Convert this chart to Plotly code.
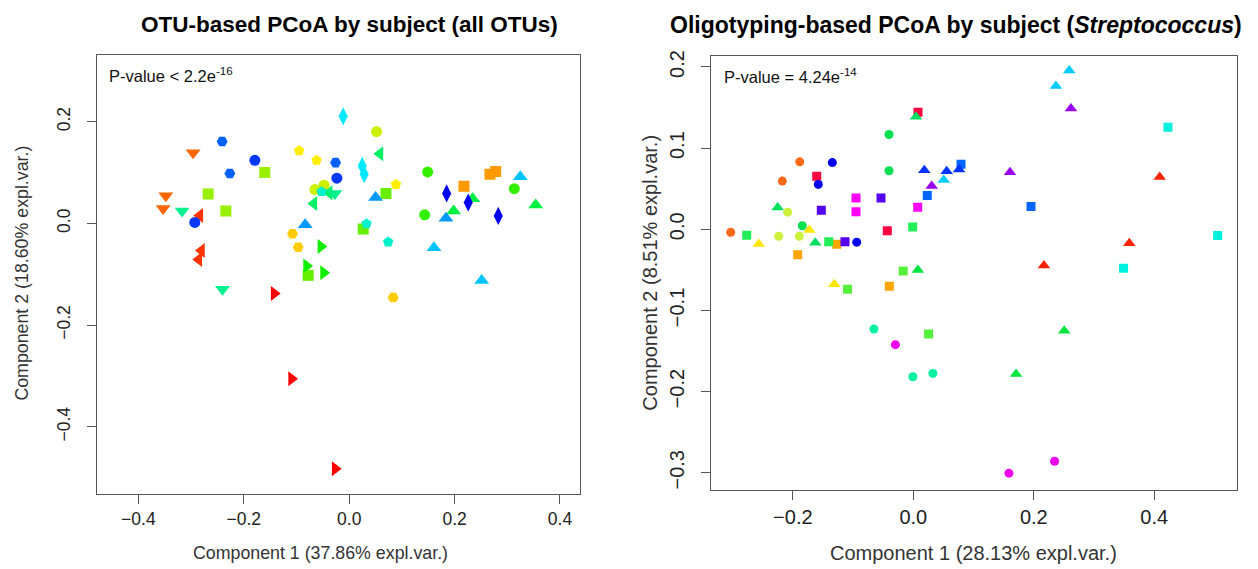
import plotly.graph_objects as go

# ---------------- Left panel: OTU-based PCoA (all OTUs) ----------------
left_subject_colors = ["#FF0000", "#FF3300", "#FF6600", "#FF9900", "#FFCC00", "#FFEE00",
                       "#CCF000", "#99F000", "#66F000", "#33F000", "#11F000", "#00F044",
                       "#00F066", "#00F090", "#00F0CC", "#00E8FF", "#00C4FF", "#0099FF",
                       "#0060FF", "#0038FF", "#0000F0"]
left_subject_symbols = ["triangle-right", "triangle-left", "triangle-down", "square", "hexagon2",
                        "pentagon", "circle", "square", "square", "circle", "triangle-right",
                        "triangle-up", "triangle-left", "triangle-down", "pentagon", "diamond-tall",
                        "triangle-up", "triangle-up", "hexagon2", "circle", "diamond-tall"]

left_x = [-0.1424, -0.1094, -0.0266,
          -0.2835, -0.2802, -0.2854,
          -0.2962, -0.3480, -0.3531,
          0.2671, 0.2780, 0.2178,
          -0.1075, 0.0835, -0.0968,
          -0.0949, -0.0619, 0.0887,
          -0.0651, -0.0475, 0.0520,
          -0.1601, -0.2677, -0.2341,
          0.0697, 0.0266, -0.0778,
          0.1489, 0.3133, 0.1432,
          -0.0537, -0.0809, -0.0486,
          0.3539, 0.1982, 0.2343,
          -0.0670, 0.0583, -0.0380,
          -0.3171, -0.2404, -0.0272,
          -0.0524, 0.0330, 0.0740,
          -0.0114, 0.0247, 0.0285,
          0.3247, 0.1608, 0.2514,
          -0.0835, 0.0501, 0.1836,
          -0.2411, -0.0258, -0.2265,
          -0.1790, -0.0234, -0.2930,
          0.1849, 0.2259, 0.2829]
left_y = [-0.1378, -0.3055, -0.4823,
          0.0156, -0.0534, -0.0710,
          0.1390, 0.0546, 0.0292,
          0.0967, 0.1020, 0.0733,
          -0.0203, -0.1456, -0.0468,
          0.1429, 0.1240, 0.0766,
          0.0669, 0.0752, 0.1805,
          0.1000, 0.0577, 0.0246,
          0.0590, -0.0111, -0.1021,
          0.1013, 0.0682, 0.0168,
          -0.0456, -0.0838, -0.0969,
          0.0363, 0.0246, 0.0487,
          0.0390, 0.1370, 0.0604,
          0.0246, -0.1294, 0.0590,
          0.0624, -0.0008, -0.0365,
          0.2105, 0.1130, 0.0967,
          0.0916, -0.0481, -0.1125,
          -0.0027, 0.0507, 0.0103,
          0.1610, 0.1195, 0.0980,
          0.1240, 0.0889, 0.0020,
          0.0590, 0.0410, 0.0148]
left_subject = [i for i in range(21) for _ in range(3)]

# ---------------- Right panel: Oligotyping-based PCoA (Streptococcus) ----------------
right_subject_colors = ["#FF0040", "#FF2200", "#FF6A1A", "#FFA500", "#FFE600", "#CCF03C",
                        "#55F03C", "#22EE55", "#00E060", "#00E640", "#00E050", "#00F0A0",
                        "#00F0E0", "#00CCFF", "#0066FF", "#0033FF", "#0000EE", "#5500F0",
                        "#9900F0", "#FF00FF", "#EE00EE"]
right_subject_symbols = ["square", "triangle-up", "circle", "square", "triangle-up", "circle",
                         "square", "square", "triangle-up", "triangle-up", "circle", "circle",
                         "square", "triangle-up", "square", "triangle-up", "circle", "square",
                         "triangle-up", "square", "circle"]

right_x = [0.0078, -0.1603, -0.0432,
           0.4090, 0.3585, 0.2168,
           -0.1885, -0.2174, -0.3031,
           -0.1271, -0.1919, -0.0398,
           -0.1726, -0.2566, -0.1311,
           -0.2085, -0.2234, -0.1892,
           -0.0168, -0.1092, 0.0254,
           -0.0010, -0.2765, -0.1404,
           0.0045, -0.2251, -0.1627,
           0.0076, 0.2506, 0.1706,
           -0.0403, -0.0403, -0.1842,
           -0.0654, -0.0007, 0.0325,
           0.4227, 0.5052, 0.3490,
           0.0505, 0.2589, 0.2368,
           0.0232, 0.0792, 0.1954,
           0.0183, 0.0554, 0.0759,
           -0.1344, -0.1577, -0.0939,
           -0.0536, -0.1527, -0.1134,
           0.0305, 0.2617, 0.1605,
           -0.0951, -0.0951, 0.0073,
           -0.0297, 0.1587, 0.2345]
right_y = [0.1441, 0.0655, -0.0017,
           0.0643, -0.0171, -0.0445,
           0.0831, 0.0594, -0.0037,
           -0.0183, -0.0314, -0.0701,
           -0.0009, -0.0180, -0.0677,
           0.0211, -0.0086, -0.0086,
           -0.0513, -0.0738, -0.1291,
           0.0028, -0.0073, -0.0155,
           0.1388, 0.0269, -0.0167,
           -0.0501, -0.1251, -0.1784,
           0.1168, 0.0721, 0.0044,
           -0.1230, -0.1817, -0.1776,
           0.1258, -0.0078, -0.0481,
           0.0606, 0.1958, 0.1766,
           0.0415, 0.0801, 0.0281,
           0.0728, 0.0716, 0.0737,
           0.0822, 0.0553, -0.0159,
           0.0386, 0.0236, -0.0155,
           0.0533, 0.1490, 0.0704,
           0.0386, 0.0215, 0.0272,
           -0.1422, -0.3005, -0.2859]
right_subject = [i for i in range(21) for _ in range(3)]

left_ticks = [-0.4, -0.2, 0.0, 0.2, 0.4]
left_yticks = [-0.4, -0.2, 0.0, 0.2]
right_ticks = [-0.2, 0.0, 0.2, 0.4]
right_yticks = [-0.3, -0.2, -0.1, 0.0, 0.1, 0.2]

W, H = 1258, 569
FONT = "Liberation Sans, Arial, Helvetica, sans-serif"


def px_x(p):
    return p / W


def px_y(p):
    return 1 - p / H


TRI = ("diamond-tall", "triangle-up", "triangle-down", "triangle-left", "triangle-right")

fig = go.Figure()

fig.add_trace(go.Scatter(
    x=left_x, y=left_y, mode="markers", xaxis="x", yaxis="y",
    marker=dict(color=[left_subject_colors[s] for s in left_subject],
                symbol=[left_subject_symbols[s] for s in left_subject],
                size=[13 if left_subject_symbols[s] in TRI else 11 for s in left_subject],
                opacity=1, line=dict(width=0)),
    showlegend=False, hoverinfo="skip"))

fig.add_trace(go.Scatter(
    x=right_x, y=right_y, mode="markers", xaxis="x2", yaxis="y2",
    marker=dict(color=[right_subject_colors[s] for s in right_subject],
                symbol=[right_subject_symbols[s] for s in right_subject],
                size=[11 if right_subject_symbols[s] == "triangle-up" else 9 for s in right_subject],
                opacity=1, line=dict(width=0)),
    showlegend=False, hoverinfo="skip"))


def axis_common(fs):
    return dict(showgrid=False, zeroline=False, showline=True, mirror=True,
                linecolor="#555555", linewidth=1, ticks="outside", ticklen=9,
                tickcolor="#555555", tickwidth=1,
                tickfont=dict(family=FONT, size=fs, color="#222222"))


fig.update_layout(
    width=W, height=H, margin=dict(l=0, r=0, t=0, b=0),
    paper_bgcolor="white", plot_bgcolor="white",
    xaxis=dict(domain=[px_x(97.3), px_x(580)], range=[-0.478, 0.438], anchor="y",
               tickvals=left_ticks, ticktext=["\u22120.4", "\u22120.2", "0.0", "0.2", "0.4"],
               **axis_common(17.5)),
    yaxis=dict(domain=[px_y(493.3), px_y(50)], range=[-0.532, 0.332], anchor="x",
               tickvals=left_yticks, ticktext=["\u22120.4", "\u22120.2", "0.0", "0.2"],
               tickangle=-90, ticklabelstandoff=10, **axis_common(17.5)),
    xaxis2=dict(domain=[px_x(711), px_x(1237.3)], range=[-0.3358, 0.5378], anchor="y2",
                tickvals=right_ticks, ticktext=["\u22120.2", "0.0", "0.2", "0.4"],
                **axis_common(20)),
    yaxis2=dict(domain=[px_y(489), px_y(51)], range=[-0.3209, 0.2141], anchor="x2",
                tickvals=right_yticks,
                ticktext=["\u22120.3", "\u22120.2", "\u22120.1", "0.0", "0.1", "0.2"],
                tickangle=-90, ticklabelstandoff=9, **axis_common(20)),
)

annotations = [
    dict(text="<b>OTU-based PCoA by subject (all OTUs)</b>", x=px_x(349.5), y=px_y(20),
         font=dict(family=FONT, size=22.5, color="#000000")),
    dict(text="<b>Oligotyping-based PCoA by subject (<i>Streptococcus</i>)</b>", x=px_x(955.5), y=px_y(20),
         font=dict(family=FONT, size=23, color="#000000")),
    dict(text="Component 1 (37.86% expl.var.)", x=px_x(320), y=px_y(553),
         font=dict(family=FONT, size=17.8, color="#333333")),
    dict(text="Component 1 (28.13% expl.var.)", x=px_x(973), y=px_y(553),
         font=dict(family=FONT, size=20, color="#333333")),
    dict(text="Component 2 (18.60% expl.var.)", x=px_x(22), y=px_y(271), textangle=-90,
         font=dict(family=FONT, size=17.8, color="#333333")),
    dict(text="Component 2 (8.51% expl.var.)", x=px_x(650), y=px_y(270), textangle=-90,
         font=dict(family=FONT, size=20, color="#333333")),
    dict(text="P-value < 2.2e<sup>-16</sup>", x=px_x(107), y=px_y(71), xanchor="left",
         font=dict(family=FONT, size=16.5, color="#111111")),
    dict(text="P-value = 4.24e<sup>-14</sup>", x=px_x(722), y=px_y(72), xanchor="left",
         font=dict(family=FONT, size=16.5, color="#111111")),
]
for a in annotations:
    a.setdefault("xanchor", "center")
    a.update(xref="paper", yref="paper", yanchor="middle", showarrow=False)
fig.update_layout(annotations=annotations)

fig.write_html("out.html")
